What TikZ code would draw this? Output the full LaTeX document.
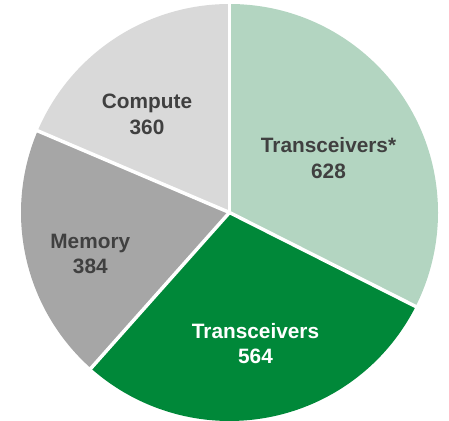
\documentclass[tikz,border=0pt]{standalone}
\usepackage{fontspec}
\setmainfont{Liberation Sans}
\usetikzlibrary{calc}
\definecolor{paleGreen}{HTML}{B3D5C1}
\definecolor{deepGreen}{HTML}{008839}
\definecolor{midGray}{HTML}{A6A6A6}
\definecolor{paleGray}{HTML}{D9D9D9}
\definecolor{labelGray}{HTML}{404040}
\tikzset{
  slicelabel/.style={align=center, inner sep=0pt, text=labelGray,
    font=\bfseries\fontsize{20.8}{25.5}\selectfont},
  separator/.style={draw=white, line width=3.5pt}
}
\begin{document}
\begin{tikzpicture}[x=1pt,y=1pt]
\useasboundingbox (0,0) rectangle (449,420);
\def\R{208.5}
\coordinate (c) at (229.5,207.5);
% slices, clockwise from the top
\fill[paleGreen] (c) -- ++(90:\R) arc[start angle=90, end angle=-26.78, radius=\R] -- cycle;
\fill[deepGreen] (c) -- ++(-26.78:\R) arc[start angle=-26.78, end angle=-131.65, radius=\R] -- cycle;
\fill[midGray] (c) -- ++(-131.65:\R) arc[start angle=-131.65, end angle=-203.06, radius=\R] -- cycle;
\fill[paleGray] (c) -- ++(-203.06:\R) arc[start angle=-203.06, end angle=-270, radius=\R] -- cycle;
% white borders between slices
\coordinate (b1) at ($(c)+(90:\R+2)$);
\coordinate (b2) at ($(c)+(-26.78:\R+2)$);
\coordinate (b3) at ($(c)+(-131.65:\R+2)$);
\coordinate (b4) at ($(c)+(-203.06:\R+2)$);
\draw[separator] (c) -- (b1);
\draw[separator] (c) -- (b2);
\draw[separator] (c) -- (b3);
\draw[separator] (c) -- (b4);
% labels
\node[slicelabel] (t1) at (328.5,262) {Transceivers*\\628};
\node[slicelabel, text=white] (t2) at (255.5,76.5) {Transceivers\\564};
\node[slicelabel] (mem) at (90.3,166) {Memory\\384};
\node[slicelabel] (cmp) at (147,305.5) {Compute\\360};
\end{tikzpicture}
\end{document}
